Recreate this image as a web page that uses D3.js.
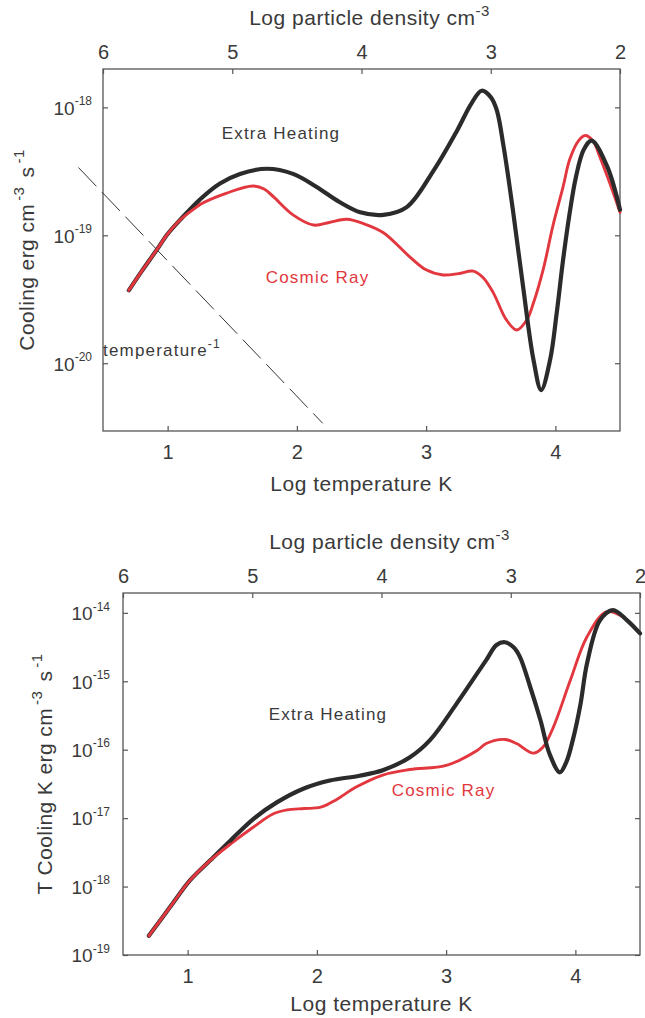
<!DOCTYPE html>
<html>
<head>
<meta charset="utf-8">
<script src="https://cdn.jsdelivr.net/npm/d3@7"></script>
<style>
  body { margin: 0; background: #fff; }
  svg text { font-family: "Liberation Sans", Arial, sans-serif; fill: #3a3a3a; }
</style>
</head>
<body>
<div id="chart"></div>
<script>
// ---- data (log10 values) ----
const densityTicks = [6, 5, 4, 3, 2];
const tempTicks = [1, 2, 3, 4];
const coolTicks = [-20, -19, -18];
const tCoolTicks = [-19, -18, -17, -16, -15, -14];

// top panel: cooling
const heatT = [0.70, 0.80, 0.915, 1.0, 1.096, 1.25, 1.405, 1.56, 1.77, 1.97, 2.15, 2.33, 2.49, 2.67, 2.85, 3.06, 3.24, 3.35, 3.43, 3.50, 3.546, 3.60, 3.675, 3.75, 3.83, 3.89, 3.96, 4.01, 4.06, 4.11, 4.16, 4.22, 4.28, 4.40, 4.50];
const heatCool = [-19.43, -19.28, -19.115, -18.99, -18.88, -18.72, -18.595, -18.52, -18.48, -18.52, -18.62, -18.74, -18.82, -18.84, -18.78, -18.49, -18.18, -17.97, -17.87, -17.92, -18.02, -18.31, -18.83, -19.40, -19.97, -20.21, -19.97, -19.61, -19.19, -18.83, -18.54, -18.33, -18.26, -18.46, -18.80];

const crT = [0.70, 0.80, 0.915, 1.0, 1.096, 1.25, 1.457, 1.66, 1.75, 1.82, 1.97, 2.13, 2.25, 2.385, 2.52, 2.67, 2.875, 3.0, 3.13, 3.25, 3.365, 3.44, 3.52, 3.62, 3.70, 3.78, 3.83, 3.91, 3.98, 4.06, 4.11, 4.18, 4.23, 4.29, 4.345, 4.42, 4.50];
const crCool = [-19.43, -19.28, -19.115, -18.99, -18.88, -18.76, -18.67, -18.615, -18.64, -18.70, -18.84, -18.92, -18.90, -18.875, -18.91, -18.98, -19.17, -19.27, -19.31, -19.30, -19.28, -19.33, -19.45, -19.66, -19.74, -19.66, -19.53, -19.25, -18.93, -18.62, -18.41, -18.26, -18.22, -18.26, -18.39, -18.59, -18.82];

const invT = [0.31, 2.20];
const invCool = [-18.47, -20.47];

// bottom panel: T * cooling
const heatT2 = [0.70, 0.864, 1.018, 1.173, 1.33, 1.51, 1.69, 1.895, 2.10, 2.33, 2.51, 2.72, 2.875, 3.08, 3.31, 3.39, 3.455, 3.52, 3.57, 3.65, 3.73, 3.80, 3.88, 3.93, 3.98, 4.04, 4.09, 4.19, 4.29, 4.40, 4.50];
const heatTCool = [-18.72, -18.30, -17.91, -17.62, -17.33, -17.01, -16.77, -16.57, -16.45, -16.38, -16.30, -16.11, -15.86, -15.33, -14.69, -14.47, -14.43, -14.50, -14.64, -15.08, -15.57, -16.06, -16.33, -16.18, -15.86, -15.33, -14.74, -14.11, -13.96, -14.11, -14.30];

const crT2 = [0.70, 0.864, 1.018, 1.173, 1.33, 1.51, 1.66, 1.77, 1.90, 2.03, 2.15, 2.30, 2.51, 2.72, 3.0, 3.24, 3.31, 3.455, 3.545, 3.675, 3.75, 3.83, 3.96, 4.09, 4.24, 4.37, 4.50];
const crTCool = [-18.72, -18.30, -17.91, -17.62, -17.38, -17.13, -16.94, -16.88, -16.86, -16.84, -16.73, -16.55, -16.37, -16.29, -16.23, -16.01, -15.91, -15.85, -15.91, -16.05, -15.96, -15.67, -14.99, -14.35, -13.985, -14.06, -14.30];

const BLACK = "#2b2b2b";
const RED = "#e2373e";
const AXIS = "#555";

const svg = d3.select("#chart").append("svg")
  .attr("width", 645)
  .attr("height", 1018);

function drawPanel(cfg) {
  const g = svg.append("g");
  const x = d3.scaleLinear().domain([0.5, 4.5]).range([cfg.left, cfg.right]);
  const xTop = d3.scaleLinear().domain([6, 2]).range([cfg.left, cfg.right]);
  const y = d3.scaleLog()
    .domain([Math.pow(10, cfg.yMin), Math.pow(10, cfg.yMax)])
    .range([cfg.bottom, cfg.top]);

  // frame
  g.append("rect")
    .attr("x", cfg.left).attr("y", cfg.top)
    .attr("width", cfg.right - cfg.left).attr("height", cfg.bottom - cfg.top)
    .attr("fill", "none").attr("stroke", AXIS).attr("stroke-width", 1.3);

  const styleAxis = (a) => {
    a.select(".domain").remove();
    a.selectAll(".tick line").attr("stroke", AXIS).attr("stroke-width", 1.2);
    a.selectAll(".tick text").attr("fill", "#3a3a3a").attr("font-family", null);
  };

  // bottom axis (temperature)
  const bx = g.append("g")
    .attr("transform", `translate(0,${cfg.bottom})`)
    .call(d3.axisBottom(x).tickValues(tempTicks).tickSize(-5).tickPadding(14).tickFormat(d3.format("d")));
  styleAxis(bx);
  bx.selectAll(".tick text").attr("font-size", 20);

  // top axis (density)
  const tx = g.append("g")
    .attr("transform", `translate(0,${cfg.top})`)
    .call(d3.axisTop(xTop).tickValues(densityTicks).tickSize(-5).tickPadding(10).tickFormat(d3.format("d")));
  styleAxis(tx);
  tx.selectAll(".tick text").attr("font-size", 20);

  // left axis, powers of ten
  const ly = g.append("g")
    .attr("transform", `translate(${cfg.left},0)`)
    .call(d3.axisLeft(y).tickValues(cfg.yTicks.map(e => Math.pow(10, e))).tickSize(-5).tickPadding(cfg.yPad).tickFormat(""));
  styleAxis(ly);
  ly.selectAll(".tick text").each(function (d) {
    const t = d3.select(this).attr("font-size", 19).attr("dy", "0.36em");
    t.append("tspan").text("10");
    t.append("tspan").attr("font-size", 12).attr("dy", "-0.8em").text(Math.round(Math.log10(d)));
  });

  // right axis ticks only
  const ry = g.append("g")
    .attr("transform", `translate(${cfg.right},0)`)
    .call(d3.axisRight(y).tickValues(cfg.yTicks.map(e => Math.pow(10, e))).tickSize(-5).tickFormat(""));
  styleAxis(ry);

  // axis titles
  const top = g.append("text")
    .attr("x", (cfg.left + cfg.right) / 2 + 8)
    .attr("y", cfg.top - 44)
    .attr("text-anchor", "middle")
    .attr("font-size", 21)
    .attr("letter-spacing", 0.5);
  top.append("tspan").text("Log particle density cm");
  top.append("tspan").attr("font-size", 15).attr("dy", -9).text("-3");

  g.append("text")
    .attr("x", (cfg.left + cfg.right) / 2)
    .attr("y", cfg.bottom + cfg.xLabelGap)
    .attr("text-anchor", "middle")
    .attr("font-size", 21)
    .attr("letter-spacing", 0.5)
    .text("Log temperature K");

  const yl = g.append("text")
    .attr("transform", `translate(${cfg.yLabelX},${(cfg.top + cfg.bottom) / 2}) rotate(-90)`)
    .attr("text-anchor", "middle")
    .attr("font-size", 21)
    .attr("letter-spacing", 0.4);
  yl.append("tspan").text(cfg.yLabel + " cm");
  yl.append("tspan").attr("font-size", 15).attr("dy", -10).attr("dx", 3).text("-3");
  yl.append("tspan").attr("dy", 10).attr("dx", 3).text(" s");
  yl.append("tspan").attr("font-size", 15).attr("dy", -10).attr("dx", 3).text("-1");

  const line = d3.line()
    .x(d => x(d[0]))
    .y(d => y(Math.pow(10, d[1])))
    .curve(d3.curveCatmullRom.alpha(0.5));

  return { g, x, y, line };
}

// ---- top panel ----
const p1 = drawPanel({
  left: 103, right: 620, top: 69, bottom: 431,
  yMin: -20.53, yMax: -17.70, yTicks: coolTicks, yPad: 11,
  xLabelGap: 60, yLabelX: 34, yLabel: "Cooling erg"
});

p1.g.append("path")
  .datum(d3.zip(invT, invCool))
  .attr("d", p1.line.curve(d3.curveLinear))
  .attr("fill", "none").attr("stroke", "#333").attr("stroke-width", 1)
  .attr("stroke-dasharray", "26,8");
p1.line.curve(d3.curveCatmullRom.alpha(0.5));

p1.g.append("path")
  .datum(d3.zip(crT, crCool))
  .attr("d", p1.line)
  .attr("fill", "none").attr("stroke", RED).attr("stroke-width", 2.9)
  .attr("stroke-linecap", "round");
p1.g.append("path")
  .datum(d3.zip(heatT, heatCool))
  .attr("d", p1.line)
  .attr("fill", "none").attr("stroke", BLACK).attr("stroke-width", 4.2)
  .attr("stroke-linecap", "round");
// red drawn again over the shared low-temperature part
p1.g.append("path")
  .datum(d3.zip(crT.slice(0, 6), crCool.slice(0, 6)))
  .attr("d", p1.line)
  .attr("fill", "none").attr("stroke", RED).attr("stroke-width", 2.9)
  .attr("stroke-linecap", "round");

p1.g.append("text")
  .attr("x", p1.x(1.877)).attr("y", p1.y(Math.pow(10, -18.25)))
  .attr("text-anchor", "middle").attr("font-size", 17).attr("letter-spacing", 1.2)
  .text("Extra Heating");
p1.g.append("text")
  .attr("x", p1.x(2.16)).attr("y", p1.y(Math.pow(10, -19.37)))
  .attr("text-anchor", "middle").attr("font-size", 17).attr("letter-spacing", 1.2)
  .style("fill", RED)
  .text("Cosmic Ray");
const tl = p1.g.append("text")
  .attr("x", p1.x(0.5)).attr("y", p1.y(Math.pow(10, -19.94)))
  .attr("font-size", 17).attr("letter-spacing", 1.2);
tl.append("tspan").text("temperature");
tl.append("tspan").attr("font-size", 12).attr("dy", -8).text("-1");

// ---- bottom panel ----
const p2 = drawPanel({
  left: 123, right: 640, top: 593, bottom: 955,
  yMin: -19, yMax: -13.71, yTicks: tCoolTicks, yPad: 13,
  xLabelGap: 56, yLabelX: 52, yLabel: "T Cooling K erg"
});

p2.g.append("path")
  .datum(d3.zip(crT2, crTCool))
  .attr("d", p2.line)
  .attr("fill", "none").attr("stroke", RED).attr("stroke-width", 2.9)
  .attr("stroke-linecap", "round");
p2.g.append("path")
  .datum(d3.zip(heatT2, heatTCool))
  .attr("d", p2.line)
  .attr("fill", "none").attr("stroke", BLACK).attr("stroke-width", 4.2)
  .attr("stroke-linecap", "round");
p2.g.append("path")
  .datum(d3.zip(crT2.slice(0, 5), crTCool.slice(0, 5)))
  .attr("d", p2.line)
  .attr("fill", "none").attr("stroke", RED).attr("stroke-width", 2.9)
  .attr("stroke-linecap", "round");

p2.g.append("text")
  .attr("x", p2.x(2.086)).attr("y", p2.y(Math.pow(10, -15.57)))
  .attr("text-anchor", "middle").attr("font-size", 17).attr("letter-spacing", 1.2)
  .text("Extra Heating");
p2.g.append("text")
  .attr("x", p2.x(2.98)).attr("y", p2.y(Math.pow(10, -16.67)))
  .attr("text-anchor", "middle").attr("font-size", 17).attr("letter-spacing", 1.2)
  .style("fill", RED)
  .text("Cosmic Ray");
</script>
</body>
</html>
